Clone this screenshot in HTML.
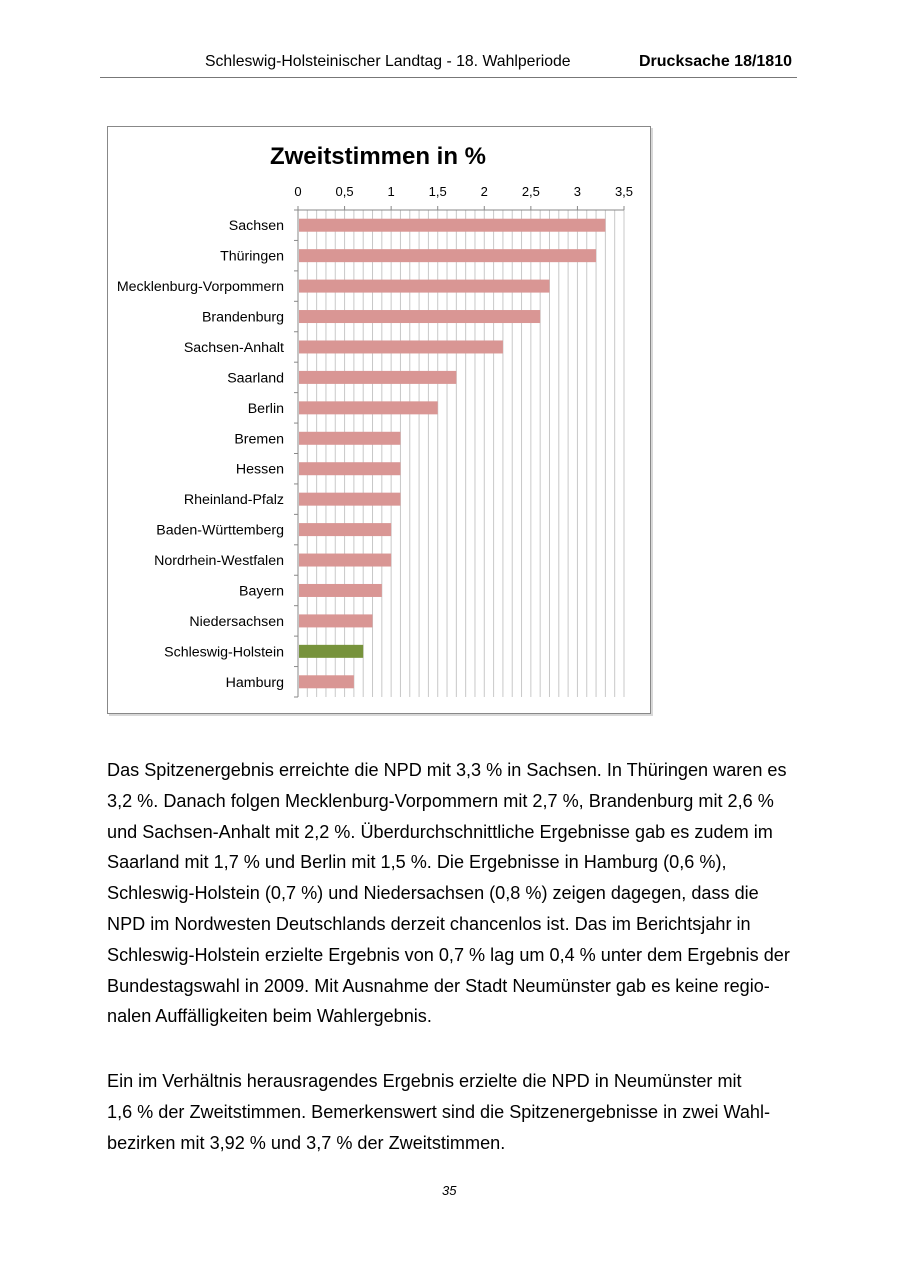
<!DOCTYPE html>
<html><head><meta charset="utf-8"><style>
body{margin:0;width:900px;height:1272px;background:#fff;position:relative;font-family:"Liberation Sans",sans-serif;color:#000}
.abs{position:absolute}
p{margin:0}
.txt{left:107px;font-size:18.1px;line-height:30.8px;width:760px;white-space:nowrap}
</style></head><body>
<div class="abs" style="left:205px;top:53px;font-size:15.8px">Schleswig-Holsteinischer Landtag - 18. Wahlperiode</div>
<div class="abs" style="left:639px;top:53px;font-size:16px;font-weight:bold">Drucksache 18/1810</div>
<div class="abs" style="left:100px;top:77px;width:697px;height:1px;background:#777"></div>

<svg class="abs" style="left:0;top:0" width="900" height="760" id="chart"></svg>

<div class="abs txt" style="top:755px">Das Spitzenergebnis erreichte die NPD mit 3,3 % in Sachsen. In Thüringen waren es<br>3,2 %. Danach folgen Mecklenburg-Vorpommern mit 2,7 %, Brandenburg mit 2,6 %<br>und Sachsen-Anhalt mit 2,2 %. Überdurchschnittliche Ergebnisse gab es zudem im<br>Saarland mit 1,7 % und Berlin mit 1,5 %. Die Ergebnisse in Hamburg (0,6 %),<br>Schleswig-Holstein (0,7 %) und Niedersachsen (0,8 %) zeigen dagegen, dass die<br>NPD im Nordwesten Deutschlands derzeit chancenlos ist. Das im Berichtsjahr in<br>Schleswig-Holstein erzielte Ergebnis von 0,7 % lag um 0,4 % unter dem Ergebnis der<br>Bundestagswahl in 2009. Mit Ausnahme der Stadt Neumünster gab es keine regio-<br>nalen Auffälligkeiten beim Wahlergebnis.</div>
<div class="abs txt" style="top:1066px">Ein im Verhältnis herausragendes Ergebnis erzielte die NPD in Neumünster mit<br>1,6 % der Zweitstimmen. Bemerkenswert sind die Spitzenergebnisse in zwei Wahl-<br>bezirken mit 3,92 % und 3,7 % der Zweitstimmen.</div>
<div class="abs" style="left:442px;top:1183px;font-size:13px;font-style:italic">35</div>

<script>
const categories=["Sachsen","Thüringen","Mecklenburg-Vorpommern","Brandenburg","Sachsen-Anhalt","Saarland","Berlin","Bremen","Hessen","Rheinland-Pfalz","Baden-Württemberg","Nordrhein-Westfalen","Bayern","Niedersachsen","Schleswig-Holstein","Hamburg"];
const values=[3.3,3.2,2.7,2.6,2.2,1.7,1.5,1.1,1.1,1.1,1.0,1.0,0.9,0.8,0.7,0.6];
const highlight=["Schleswig-Holstein"];
const tickValues=[0,0.5,1,1.5,2,2.5,3,3.5];
const tickLabels=["0","0,5","1","1,5","2","2,5","3","3,5"];
const NS="http://www.w3.org/2000/svg";
const svg=document.getElementById('chart');
const x0=298,x1=624,xmax=3.5,yTop=210,yBot=697;
const band=(yBot-yTop)/categories.length;
const xs=v=>x0+(v/xmax)*(x1-x0);
const ys=i=>yTop+band*i;
function mk(t,a){const e=document.createElementNS(NS,t);for(const k in a)e.setAttribute(k,a[k]);svg.appendChild(e);return e;}
let e;
e=mk('rect',{x:109,y:128,width:544,height:588,fill:'#d8d8d8'});


e=mk('rect',{x:107.5,y:126.5,width:543,height:587,fill:'#fff',stroke:'#888'});


e=mk('text',{x:378,y:164,'text-anchor':'middle','font-size':24,'font-weight':'bold'});
e.textContent='Zweitstimmen in %';


for(let k=1;k<=35;k++){
 const gx=xs(k/10);
 e=mk('line',{x1:gx,x2:gx,y1:yTop,y2:yBot,stroke:'#c8c8c8','stroke-width':1});
 
 
}
tickValues.forEach((v,i)=>{
 e=mk('text',{x:xs(v),y:196,'text-anchor':'middle','font-size':13});
 e.textContent=tickLabels[i];
 
 
 e=mk('line',{x1:xs(v),x2:xs(v),y1:yTop-4,y2:yTop,stroke:'#888'});
 
 
});
e=mk('line',{x1:x0,x2:x1,y1:yTop,y2:yTop,stroke:'#888'});


e=mk('line',{x1:x0,x2:x0,y1:yTop,y2:yBot,stroke:'#888'});


for(let i=0;i<=categories.length;i++){
 e=mk('line',{x1:x0-4,x2:x0,y1:ys(i),y2:ys(i),stroke:'#888'});
 
 
}
categories.forEach((c,i)=>{
 const cy=ys(i)+band/2;
 e=mk('rect',{x:x0+1,y:cy-6.5,width:xs(values[i])-x0-1,height:13,fill:highlight.includes(c)?'#77933c':'#d99694'});
 
 
 e=mk('text',{x:284,y:cy+5,'text-anchor':'end','font-size':14.2});
 e.textContent=c;
 
 
});
</script>
</body></html>
